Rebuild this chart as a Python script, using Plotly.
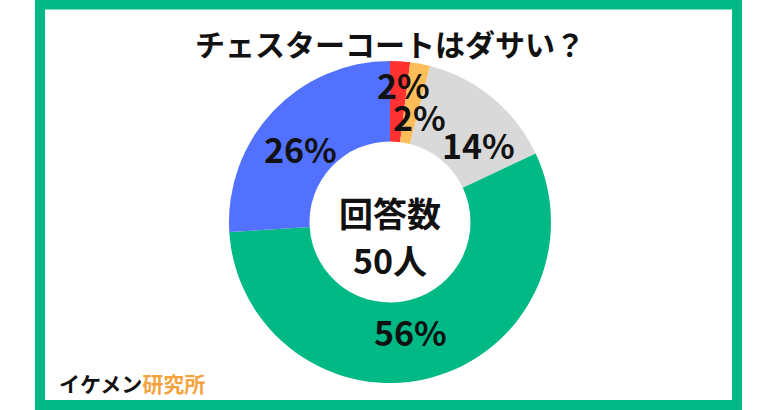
import math
import plotly.graph_objects as go

# ---- data ----
categories = ["とてもダサい", "ややダサい", "どちらでもない", "ダサくない", "全くダサくない"]
values = [2, 2, 14, 56, 26]
label_texts = ["2%", "2%", "14%", "56%", "26%"]
colors = ["#FF3131", "#FFBD59", "#D9D9D9", "#00B984", "#5271FF"]
title_text = "チェスターコートはダサい？"
center_lines = ["回答数", "50人"]
brand_black = "イケメン"
brand_orange = "研究所"

# ---- style ----
W, H = 780, 410
FONT = "Noto Sans CJK JP"
GREEN = "#00B984"
CX, CY, R = 390, 222, 161          # pie centre / radius in px
label_rf = [0.86, 0.68, 0.73, 0.69, 0.72]      # label radius factors
label_da = [1.8, 5.0, 9.0, 4.0, -4.0]          # label angle nudges (deg)

dom_x = [(CX - R) / W, (CX + R) / W]
dom_y = [1 - (CY + R) / H, 1 - (CY - R) / H]

fig = go.Figure(go.Pie(
    labels=categories, values=values, sort=False, direction="clockwise",
    rotation=0, hole=0.5, marker=dict(colors=colors, line=dict(width=0)),
    textinfo="none", hoverinfo="label+percent", showlegend=False,
    domain=dict(x=dom_x, y=dom_y),
))

annotations = []
total = sum(values)
cum = 0
for i, v in enumerate(values):
    mid = (cum + v / 2) / total * 360 + label_da[i]
    cum += v
    th = math.radians(mid)
    px = CX + label_rf[i] * R * math.sin(th)
    py = CY - label_rf[i] * R * math.cos(th)
    annotations.append(dict(x=px / W, y=1 - py / H, xref="paper", yref="paper",
                            text=f"<b>{label_texts[i]}</b>", showarrow=False,
                            font=dict(family=FONT, size=34, color="#111111"),
                            xanchor="center", yanchor="middle"))

annotations.append(dict(x=0.5, y=1 - 43 / H, xref="paper", yref="paper",
                        text=f"<b>{title_text}</b>", showarrow=False,
                        font=dict(family=FONT, size=30, color="#111111"),
                        xanchor="center", yanchor="middle"))
annotations.append(dict(x=CX / W, y=1 - 212 / H, xref="paper", yref="paper",
                        text=f"<b>{center_lines[0]}</b>", showarrow=False,
                        font=dict(family=FONT, size=34, color="#111111"),
                        xanchor="center", yanchor="middle"))
annotations.append(dict(x=CX / W, y=1 - 259 / H, xref="paper", yref="paper",
                        text=f"<b>{center_lines[1]}</b>", showarrow=False,
                        font=dict(family=FONT, size=34, color="#111111"),
                        xanchor="center", yanchor="middle"))
annotations.append(dict(x=57 / W, y=1 - 383 / H, xref="paper", yref="paper",
                        text=f"<b>{brand_black}<span style='color:#F5A33E'>{brand_orange}</span></b>",
                        showarrow=False,
                        font=dict(family=FONT, size=21, color="#111111"),
                        xanchor="left", yanchor="middle"))

shapes = [dict(type="rect", xref="paper", yref="paper",
               x0=40 / W, x1=737 / W, y0=1 - 405 / H, y1=1 - 4.5 / H,
               line=dict(color=GREEN, width=10), fillcolor="rgba(0,0,0,0)",
               layer="below")]

fig.update_layout(
    width=W, height=H, margin=dict(l=0, r=0, t=0, b=0),
    paper_bgcolor="white", plot_bgcolor="white",
    annotations=annotations, shapes=shapes,
)
fig.write_html("out.html", config={"displayModeBar": False},
               post_script="document.body.style.margin='0';document.body.style.overflow='hidden';")
